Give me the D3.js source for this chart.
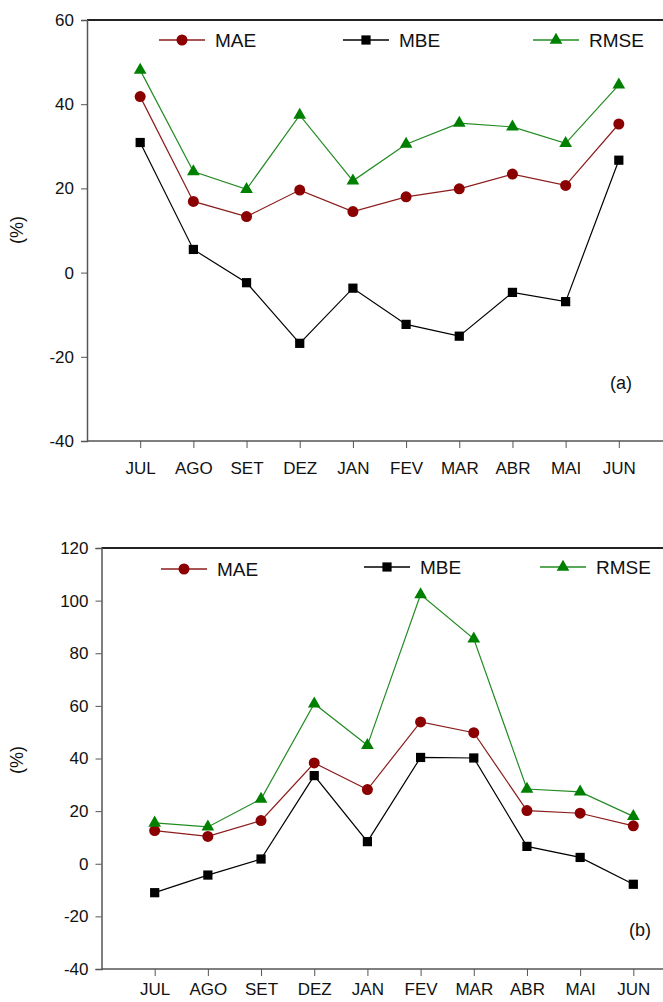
<!DOCTYPE html>
<html>
<head>
<meta charset="UTF-8">
<script src="https://d3js.org/d3.v7.min.js"></script>
<style>
  body { margin: 0; background: #fff; }
  text { font-family: "Liberation Sans", Arial, sans-serif; fill: #111; }
</style>
</head>
<body>
<div id="chart"></div>
<script>
var width = 663, height = 1002;

var months = ["JUL", "AGO", "SET", "DEZ", "JAN", "FEV", "MAR", "ABR", "MAI", "JUN"];

// painel (a)
var maeA  = [41.8, 16.9, 13.3, 19.6, 14.5, 18.0, 19.9, 23.4, 20.7, 35.3];
var mbeA  = [30.9, 5.5, -2.4, -16.8, -3.7, -12.3, -15.1, -4.7, -6.9, 26.7];
var rmseA = [48.1, 24.0, 19.8, 37.4, 21.8, 30.5, 35.5, 34.6, 30.7, 44.6];
var ticksA = [-40, -20, 0, 20, 40, 60];

// painel (b)
var maeB  = [12.6, 10.4, 16.4, 38.3, 28.2, 53.9, 49.8, 20.2, 19.2, 14.4];
var mbeB  = [-11.0, -4.3, 1.8, 33.5, 8.4, 40.4, 40.2, 6.6, 2.4, -7.8];
var rmseB = [15.5, 14.0, 24.6, 60.8, 45.0, 102.3, 85.5, 28.4, 27.3, 18.0];
var ticksB = [-40, -20, 0, 20, 40, 60, 80, 100, 120];

var styles = {
  MAE:  { line: "#8b1c1c", fill: "#8b0000", shape: d3.symbolCircle, size: 95 },
  MBE:  { line: "#000000", fill: "#000000", shape: d3.symbolSquare, size: 85 },
  RMSE: { line: "#238b23", fill: "#008000", shape: d3.symbolTriangle, size: 70 }
};

var svg = d3.select("#chart").append("svg")
  .attr("width", width)
  .attr("height", height);

function drawPanel(cfg) {
  var x = d3.scalePoint().domain(months).range([cfg.left, cfg.left + 585]).padding(1);
  var y = d3.scaleLinear().domain(d3.extent(cfg.ticks)).range([cfg.bottom, cfg.top]);
  var g = svg.append("g");

  // moldura superior
  g.append("line")
    .attr("x1", cfg.left).attr("x2", width)
    .attr("y1", cfg.top).attr("y2", cfg.top)
    .attr("stroke", "#222").attr("stroke-width", 2);

  var yAxis = g.append("g")
    .attr("transform", "translate(" + cfg.left + ",0)")
    .call(d3.axisLeft(y).tickValues(cfg.ticks).tickSize(6).tickPadding(7)
      .tickFormat(function(d) { return String(d); }));
  yAxis.select(".domain").attr("stroke", "#555").attr("stroke-width", 1.5);
  yAxis.selectAll(".tick line").attr("stroke", "#555");
  yAxis.selectAll("text").style("font-size", "17px").attr("fill", "#111");

  var xAxis = g.append("g")
    .attr("transform", "translate(0," + cfg.bottom + ")")
    .call(d3.axisBottom(x).tickSize(7).tickPadding(cfg.xPad).tickSizeOuter(0));
  xAxis.select(".domain").attr("d", "M" + cfg.left + ",0H" + width)
    .attr("stroke", "#555").attr("stroke-width", 1.5);
  xAxis.selectAll(".tick line").attr("stroke", "#555");
  xAxis.selectAll("text").style("font-size", "17px").attr("fill", "#111");

  // rótulo do eixo y
  g.append("text")
    .attr("transform", "translate(23," + cfg.ylabelY + ") rotate(-90)")
    .attr("text-anchor", "middle")
    .style("font-size", "18px")
    .text("(%)");

  var line = d3.line()
    .x(function(d, i) { return x(months[i]); })
    .y(function(d) { return y(d); });

  cfg.series.forEach(function(s) {
    var st = styles[s.name];
    g.append("path")
      .datum(s.values)
      .attr("fill", "none")
      .attr("stroke", st.line)
      .attr("stroke-width", 1.2)
      .attr("d", line);
    g.selectAll(null)
      .data(s.values)
      .enter().append("path")
      .attr("transform", function(d, i) { return "translate(" + x(months[i]) + "," + y(d) + ")"; })
      .attr("d", d3.symbol().type(st.shape).size(st.size))
      .attr("fill", st.fill);
  });

  // legenda
  cfg.legend.forEach(function(l) {
    var st = styles[l.name];
    g.append("line")
      .attr("x1", l.x).attr("x2", l.x + 46)
      .attr("y1", l.y).attr("y2", l.y)
      .attr("stroke", st.line).attr("stroke-width", 1.5);
    g.append("path")
      .attr("transform", "translate(" + (l.x + 23) + "," + l.y + ")")
      .attr("d", d3.symbol().type(st.shape).size(st.size))
      .attr("fill", st.fill);
    g.append("text")
      .attr("x", l.x + 56).attr("y", l.y + 7)
      .style("font-size", "19px")
      .text(l.name);
  });

  g.append("text")
    .attr("x", cfg.tagX).attr("y", cfg.tagY)
    .attr("text-anchor", "middle")
    .style("font-size", "18px")
    .text(cfg.tag);
}

drawPanel({
  left: 87, top: 20, bottom: 441, ticks: ticksA, ylabelY: 230, xPad: 14,
  series: [{ name: "MAE", values: maeA }, { name: "MBE", values: mbeA }, { name: "RMSE", values: rmseA }],
  legend: [{ name: "MAE", x: 159, y: 40 }, { name: "MBE", x: 343, y: 40 }, { name: "RMSE", x: 533, y: 40 }],
  tag: "(a)", tagX: 621, tagY: 389
});

drawPanel({
  left: 101.5, top: 548, bottom: 969, ticks: ticksB, ylabelY: 760, xPad: 7,
  series: [{ name: "MAE", values: maeB }, { name: "MBE", values: mbeB }, { name: "RMSE", values: rmseB }],
  legend: [{ name: "MAE", x: 161, y: 569 }, { name: "MBE", x: 364, y: 567 }, { name: "RMSE", x: 540, y: 567 }],
  tag: "(b)", tagX: 640, tagY: 936
});
</script>
</body>
</html>
